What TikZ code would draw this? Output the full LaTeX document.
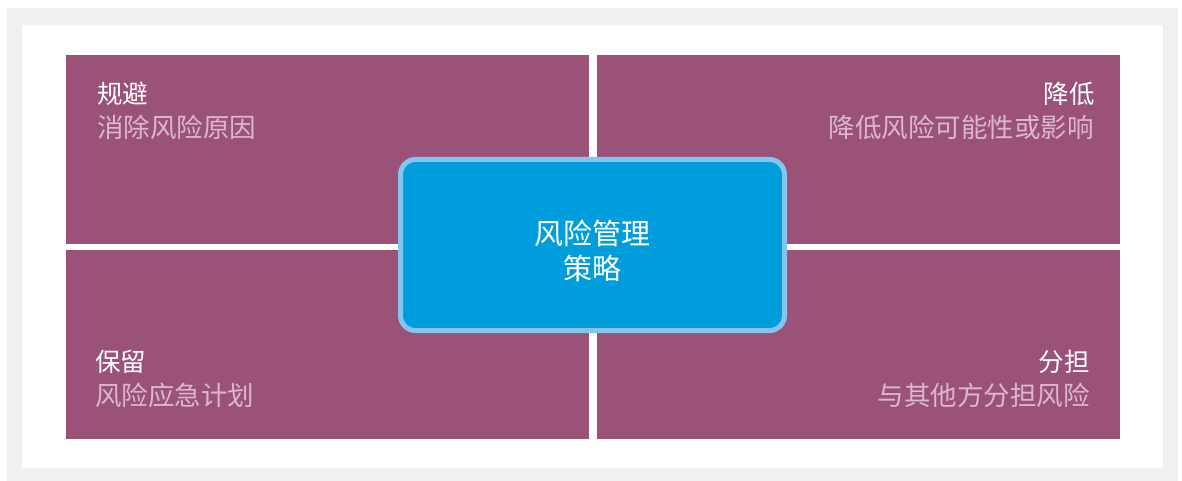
\documentclass[tikz,border=0pt]{standalone}
\usepackage{fontspec}
\setmainfont{Noto Sans CJK SC}
\usetikzlibrary{calc}
\definecolor{framegray}{HTML}{F0F0F0}
\definecolor{quadpurple}{HTML}{9B5278}
\definecolor{notepink}{HTML}{DDB6CE}
\definecolor{coreblue}{HTML}{009DDC}
\definecolor{coreedge}{HTML}{85C4EC}
\begin{document}
\begin{tikzpicture}[x=1pt,y=-1pt,
    quad/.style={fill=quadpurple, minimum width=523pt, minimum height=189pt,
      inner sep=0pt, outer sep=0pt, anchor=north west},
    heading/.style={text=white, font=\fontsize{25.5}{30}\selectfont, inner sep=0pt},
    note/.style={text=notepink, font=\fontsize{26.5}{30}\selectfont, inner sep=0pt},
    core/.style={fill=coreblue, draw=coreedge, line width=5pt, rounded corners=15pt,
      minimum width=384pt, minimum height=171pt},
    coretext/.style={text=white, align=center, inner sep=0pt,
      font=\fontsize{29}{35}\selectfont}]
  \useasboundingbox (0,0) rectangle (1182,481);
  % frame
  \fill[framegray] (7,8) rectangle (1178,481);
  \fill[white] (22,25) rectangle (1163,468);
  % quadrants
  \node[quad] (tl) at (66,55) {};
  \node[quad] (tr) at (597,55) {};
  \node[quad] (bl) at (66,250) {};
  \node[quad] (br) at (597,250) {};
  % labels
  \node[heading, anchor=west] (tlhead) at ($(tl.north west)+(31,39)$) {规避};
  \node[note, anchor=west] (tlnote) at ($(tl.north west)+(31,72)$) {消除风险原因};
  \node[heading, anchor=east] (trhead) at ($(tr.north east)+(-25,39)$) {降低};
  \node[note, anchor=east] (trnote) at ($(tr.north east)+(-26,72)$) {降低风险可能性或影响};
  \node[heading, anchor=west] (blhead) at ($(bl.north west)+(29,112)$) {保留};
  \node[note, anchor=west] (blnote) at ($(bl.north west)+(29,145)$) {风险应急计划};
  \node[heading, anchor=east] (brhead) at ($(br.north east)+(-30,112)$) {分担};
  \node[note, anchor=east] (brnote) at ($(br.north east)+(-30,145)$) {与其他方分担风险};
  % centre
  \node[core] (strategy) at (592.5,245) {};
  \node[coretext] (strategytext) at ($(strategy.center)+(0,6)$) {风险管理\\策略};
\end{tikzpicture}
\end{document}
